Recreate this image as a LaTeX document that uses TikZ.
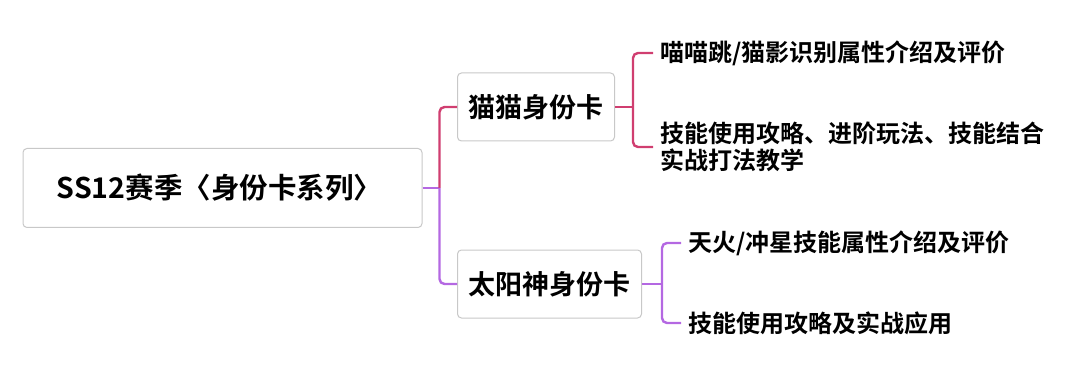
\documentclass[tikz,border=0pt]{standalone}
\usepackage{fontspec}
\usepackage{xcolor}
\usetikzlibrary{positioning, calc}
\newfontfamily\cjk{Noto Sans CJK SC}[BoldFont={Noto Sans CJK SC Bold}]
\definecolor{pinkline}{RGB}{208,62,112}
\definecolor{purpleline}{RGB}{180,104,226}
\definecolor{boxborder}{RGB}{200,200,200}
\begin{document}
\begin{tikzpicture}[
        x=1pt, y=-1pt,
        rootbox/.style={rectangle, rounded corners=4pt, draw=boxborder, line width=1pt, fill=white, minimum width=399pt, minimum height=79pt, align=center, font={\cjk\bfseries\fontsize{28.5pt}{34pt}\selectfont}},
        box/.style={rectangle, rounded corners=4pt, draw=boxborder, line width=1pt, fill=white, inner xsep=11pt, minimum height=68pt, anchor=west, align=center, font={\cjk\bfseries\fontsize{27pt}{32pt}\selectfont}},
        leaf/.style={anchor=west, inner xsep=7pt, inner ysep=0pt, align=left, font={\cjk\bfseries\fontsize{24pt}{27pt}\selectfont}},
        link/.style={line width=2.4pt, rounded corners=5pt}
    ]
        \useasboundingbox (0,0) rectangle (1080,377);

        % Nodes
        \node[rootbox] (root) at (222.5,188) {SS12赛季〈身份卡系列〉\hspace{6pt}};
        \node[box] (mao) at (457,107) {猫猫身份卡};
        \node[box] (sun) at (457,284) {太阳神身份卡};

        \node[leaf] (maoA) at (653,53) {喵喵跳/猫影识别属性介绍及评价};
        \node[leaf] (maoB) at (653,147) {技能使用攻略、进阶玩法、技能结合\\实战打法教学};
        \node[leaf] (sunA) at (681,243) {天火/冲星技能属性介绍及评价};
        \node[leaf] (sunB) at (681,323) {技能使用攻略及实战应用};

        % Arrows
        \draw[link, purpleline] (root.east) -- ++(17,0) coordinate (trunk);
        \draw[link, pinkline] (trunk) |- (mao.west);
        \draw[link, purpleline] (trunk) |- (sun.west);

        \draw[link, pinkline] (mao.east) -- ++(18,0) coordinate (maoJ);
        \draw[link, pinkline] (maoA.west) -| (maoJ) |- (maoB.west);

        \draw[link, purpleline] (sun.east) -- ++(20,0) coordinate (sunJ);
        \draw[link, purpleline] (sunA.west) -| (sunJ) |- (sunB.west);
    \end{tikzpicture}
\end{document}
